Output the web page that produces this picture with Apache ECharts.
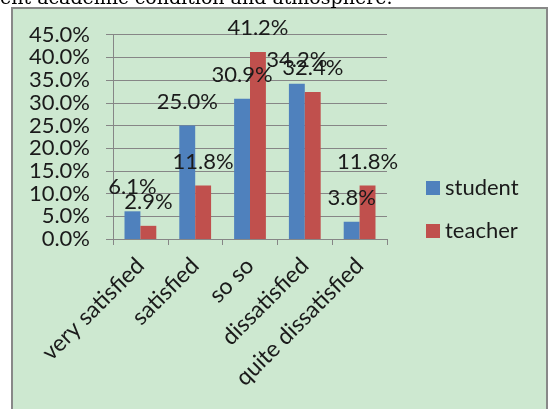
<!DOCTYPE html>
<html>
<head>
<meta charset="utf-8">
<script src="https://cdn.jsdelivr.net/npm/echarts@6/dist/echarts.min.js"></script>
<style>
  html, body { margin: 0; padding: 0; background: #ffffff; }
  #chart { width: 549px; height: 409px; }
</style>
</head>
<body>
<div id="chart"></div>
<script>
// Satisfaction levels and the share of each group (percent)
const categories = ['very satisfied', 'satisfied', 'so so', 'dissatisfied', 'quite dissatisfied'];
const studentValues = [6.1, 25.0, 30.9, 34.2, 3.8];
const teacherValues = [2.9, 11.8, 41.2, 32.4, 11.8];
const seriesNames = ['student', 'teacher'];
const yTicks = { min: 0, max: 45, interval: 5 };

const FONT = 'Lato';
const TEXT_COLOR = '#1a1a1a';
const LINE_COLOR = '#868686';

const chart = echarts.init(document.getElementById('chart'), null, { renderer: 'canvas' });

const labelOpt = {
  show: true,
  position: 'top',
  distance: 13,
  fontFamily: FONT,
  fontSize: 22,
  color: TEXT_COLOR,
  formatter: p => p.value.toFixed(1) + '%'
};

chart.setOption({
  animation: false,
  backgroundColor: '#ffffff',
  graphic: [
    {
      type: 'text',
      left: 0,
      z: -1,
      style: {
        x: 0, y: -1,
        text: 'ent academic condition and atmosphere.',
        font: '19px "DejaVu Serif"',
        fill: '#000000',
        verticalAlign: 'middle',
        align: 'left'
      }
    },
    {
      type: 'rect',
      z: -10,
      shape: { x: 12, y: 8, width: 535, height: 420 },
      style: { fill: '#cde8d0', stroke: '#888888', lineWidth: 2 }
    }
  ],
  grid: { left: 113, right: 162, top: 34.7, bottom: 170, containLabel: false },
  legend: {
    orient: 'vertical',
    left: 426,
    top: 177,
    padding: 0,
    itemWidth: 14,
    itemHeight: 14,
    itemGap: 21,
    icon: 'rect',
    textStyle: { fontFamily: FONT, fontSize: 22, color: TEXT_COLOR },
    data: seriesNames
  },
  xAxis: {
    type: 'category',
    data: categories,
    axisLine: { lineStyle: { color: LINE_COLOR, width: 1 } },
    axisTick: { show: true, length: 6, lineStyle: { color: LINE_COLOR } },
    axisLabel: {
      rotate: 45,
      interval: 0,
      margin: 23,
      fontFamily: FONT,
      fontSize: 23,
      color: TEXT_COLOR
    }
  },
  yAxis: {
    type: 'value',
    min: yTicks.min,
    max: yTicks.max,
    interval: yTicks.interval,
    axisLine: { show: true, lineStyle: { color: LINE_COLOR, width: 1 } },
    axisTick: { show: true, length: 7, lineStyle: { color: LINE_COLOR } },
    splitLine: { lineStyle: { color: LINE_COLOR, width: 1 } },
    axisLabel: {
      margin: 23,
      fontFamily: FONT,
      fontSize: 22,
      color: TEXT_COLOR,
      formatter: v => v.toFixed(1) + '%'
    }
  },
  series: [
    {
      name: seriesNames[0],
      type: 'bar',
      data: studentValues,
      barGap: '0%',
      barCategoryGap: '42%',
      itemStyle: { color: '#4f81bd' },
      label: labelOpt
    },
    {
      name: seriesNames[1],
      type: 'bar',
      data: teacherValues,
      barGap: '0%',
      barCategoryGap: '42%',
      itemStyle: { color: '#c0504d' },
      label: labelOpt
    }
  ]
});
</script>
</body>
</html>
